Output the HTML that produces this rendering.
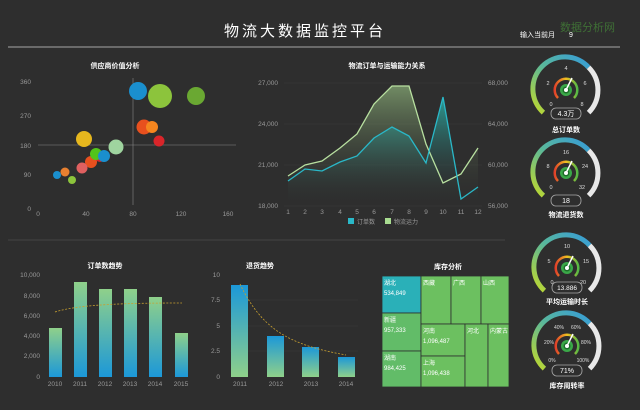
<!DOCTYPE html>
<html><head><meta charset="utf-8"><style>
html,body{margin:0;padding:0;background:#2e2e2e;}
svg{display:block;font-family:"Liberation Sans","Noto Sans CJK SC",sans-serif;}
</style></head><body>
<svg width="640" height="410" viewBox="0 0 640 410" xmlns="http://www.w3.org/2000/svg">
<defs>
<linearGradient id="ga" x1="-25" y1="25" x2="25" y2="-25" gradientUnits="userSpaceOnUse"><stop offset="0" stop-color="#b8d636"/><stop offset="0.5" stop-color="#5ab89a"/><stop offset="1" stop-color="#3a9fd2"/></linearGradient>
<linearGradient id="gi" x1="-12" y1="8" x2="12" y2="8" gradientUnits="userSpaceOnUse"><stop offset="0" stop-color="#e03a2a"/><stop offset="0.5" stop-color="#f0c020"/><stop offset="1" stop-color="#4cb848"/></linearGradient>
<linearGradient id="bGB" x1="0" y1="0" x2="0" y2="1"><stop offset="0" stop-color="#8fd08a"/><stop offset="1" stop-color="#1c98d8"/></linearGradient>
<linearGradient id="bBG" x1="0" y1="0" x2="0" y2="1"><stop offset="0" stop-color="#1c98d8"/><stop offset="1" stop-color="#8fd08a"/></linearGradient>
<linearGradient id="aG" x1="0" y1="0" x2="0" y2="1"><stop offset="0" stop-color="#a8d890" stop-opacity="0.55"/><stop offset="1" stop-color="#2e2e2e" stop-opacity="0"/></linearGradient>
<linearGradient id="aT" x1="0" y1="0" x2="0" y2="1"><stop offset="0" stop-color="#2ab8b0" stop-opacity="0.8"/><stop offset="1" stop-color="#2e2e2e" stop-opacity="0"/></linearGradient>
<g id="gauge">
<path d="M-22.6,22.6 A32,32 0 1 1 22.6,-22.6" fill="none" stroke="url(#ga)" stroke-width="5"/>
<path d="M22.6,-22.6 A32,32 0 0 1 22.6,22.6" fill="none" stroke="#e8e8e8" stroke-width="5"/>
<path d="M-8,8 A11.3,11.3 0 1 1 8,8" fill="none" stroke="url(#gi)" stroke-width="2.5"/>
<circle r="6" fill="#3aa848"/><circle r="3.5" fill="#1e6e2a"/><circle r="2" fill="#fff"/>
<line x1="0" y1="0" x2="6" y2="-12" stroke="#fff" stroke-width="1.5"/>
</g>
</defs>
<rect width="640" height="410" fill="#2e2e2e"/>
<text x="305" y="36" fill="#fff" font-size="15" text-anchor="middle" letter-spacing="3">物流大数据监控平台</text>
<text x="520" y="37" fill="#fff" font-size="7">输入当前月</text>
<text x="569" y="37" fill="#fff" font-size="7">9</text>
<text x="560" y="31" fill="#4a9a3a" font-size="11" opacity="0.6">数据分析网</text>
<rect x="8" y="46" width="612" height="2" fill="#6a6a6a"/>
<line x1="8" y1="240" x2="505" y2="240" stroke="#444" stroke-width="1"/>

<!-- scatter -->
<text x="115" y="68" fill="#fff" font-size="7" text-anchor="middle" font-weight="bold">供应商价值分析</text>
<g fill="#999" font-size="6.5" text-anchor="end">
<text x="31" y="84">360</text><text x="31" y="118">270</text><text x="31" y="148">180</text><text x="31" y="177">90</text><text x="31" y="211">0</text></g>
<g fill="#999" font-size="6.5" text-anchor="middle">
<text x="38" y="216">0</text><text x="86" y="216">40</text><text x="133" y="216">80</text><text x="181" y="216">120</text><text x="228" y="216">160</text></g>
<line x1="133" y1="78" x2="133" y2="205" stroke="#888" stroke-width="0.6"/>
<line x1="38" y1="145" x2="236" y2="145" stroke="#888" stroke-width="0.6"/>
<circle cx="138" cy="91" r="9" fill="#1a8fce"/>
<circle cx="160" cy="96" r="12" fill="#8cc43c"/>
<circle cx="196" cy="96" r="9" fill="#6aa832"/>
<circle cx="144" cy="127" r="7.5" fill="#e8501e"/>
<circle cx="152" cy="127" r="6" fill="#f5861f"/>
<circle cx="159" cy="141" r="5.5" fill="#d9252a"/>
<circle cx="84" cy="139" r="8" fill="#e6b71e"/>
<circle cx="116" cy="147" r="7.5" fill="#9fd49f"/>
<circle cx="91" cy="162" r="6" fill="#e8501e"/>
<circle cx="100" cy="157" r="5" fill="#d9252a"/>
<circle cx="96" cy="154" r="6" fill="#52c41a"/>
<circle cx="104" cy="156" r="6" fill="#1a8fce"/>
<circle cx="82" cy="168" r="5.5" fill="#e06060"/>
<circle cx="65" cy="172" r="4.5" fill="#e88030"/>
<circle cx="57" cy="175" r="4" fill="#1a8fce"/>
<circle cx="72" cy="180" r="4" fill="#8cc43c"/>

<!-- area chart -->
<text x="387" y="68" fill="#fff" font-size="7" text-anchor="middle" font-weight="bold">物流订单与运输能力关系</text>
<g stroke="#3a3a3a" stroke-width="0.6"><line x1="284" y1="83" x2="482" y2="83"/><line x1="284" y1="124" x2="482" y2="124"/><line x1="284" y1="165" x2="482" y2="165"/><line x1="284" y1="206" x2="482" y2="206"/></g>
<g fill="#999" font-size="6.5" text-anchor="end">
<text x="278" y="85">27,000</text><text x="278" y="126">24,000</text><text x="278" y="167">21,000</text><text x="278" y="208">18,000</text></g>
<g fill="#999" font-size="6.5" text-anchor="start">
<text x="488" y="85">68,000</text><text x="488" y="126">64,000</text><text x="488" y="167">60,000</text><text x="488" y="208">56,000</text></g>
<g fill="#999" font-size="6.5" text-anchor="middle">
<text x="288" y="214">1</text><text x="305" y="214">2</text><text x="322" y="214">3</text><text x="340" y="214">4</text><text x="357" y="214">5</text><text x="374" y="214">6</text><text x="392" y="214">7</text><text x="409" y="214">8</text><text x="426" y="214">9</text><text x="443" y="214">10</text><text x="461" y="214">11</text><text x="478" y="214">12</text></g>
<path d="M288,176 L305,165 L322,161 L340,148 L357,134 L374,104 L392,86 L409,86 L426,144 L443,183 L461,174 L478,148 L478,206 L288,206Z" fill="url(#aG)"/>
<path d="M288,181 L305,169 L322,171 L340,162 L357,156 L374,138 L392,127 L409,136 L426,163 L443,97 L461,199 L478,187 L478,206 L288,206Z" fill="url(#aT)"/>
<polyline points="288,176 305,165 322,161 340,148 357,134 374,104 392,86 409,86 426,144 443,183 461,174 478,148" fill="none" stroke="#b8e0a0" stroke-width="1.3"/>
<polyline points="288,181 305,169 322,171 340,162 357,156 374,138 392,127 409,136 426,163 443,97 461,199 478,187" fill="none" stroke="#2ab8c8" stroke-width="1.3"/>
<rect x="348" y="218" width="6" height="6" fill="#2ab8c8"/><text x="357" y="224" fill="#999" font-size="6">订单数</text>
<rect x="385" y="218" width="6" height="6" fill="#a8dc90"/><text x="394" y="224" fill="#999" font-size="6">物流运力</text>

<!-- bar chart 1 -->
<text x="105" y="268" fill="#fff" font-size="7" text-anchor="middle" font-weight="bold">订单数趋势</text>
<g fill="#999" font-size="6.5" text-anchor="end">
<text x="40" y="277">10,000</text><text x="40" y="298">8,000</text><text x="40" y="318">6,000</text><text x="40" y="338">4,000</text><text x="40" y="358">2,000</text><text x="40" y="379">0</text></g>
<g fill="url(#bGB)">
<rect x="49" y="328" width="13" height="49"/><rect x="74" y="282" width="13" height="95"/><rect x="99" y="289" width="13" height="88"/><rect x="124" y="289" width="13" height="88"/><rect x="149" y="297" width="13" height="80"/><rect x="175" y="333" width="13" height="44"/></g>
<path d="M55,312 C80,304 130,303 182,303" fill="none" stroke="#c8a030" stroke-width="0.8" stroke-dasharray="2,1.5"/>
<g fill="#999" font-size="6.5" text-anchor="middle">
<text x="55" y="386">2010</text><text x="80" y="386">2011</text><text x="105" y="386">2012</text><text x="130" y="386">2013</text><text x="155" y="386">2014</text><text x="181" y="386">2015</text></g>

<!-- bar chart 2 -->
<text x="260" y="268" fill="#fff" font-size="7" text-anchor="middle" font-weight="bold">退货趋势</text>
<g stroke="#3a3a3a" stroke-width="0.6"><line x1="230" y1="300" x2="358" y2="300"/><line x1="230" y1="326" x2="358" y2="326"/><line x1="230" y1="351" x2="358" y2="351"/></g>
<g fill="#999" font-size="6.5" text-anchor="end">
<text x="220" y="277">10</text><text x="220" y="302">7.5</text><text x="220" y="328">5</text><text x="220" y="353">2.5</text><text x="220" y="379">0</text></g>
<g fill="url(#bBG)">
<rect x="231" y="285" width="17" height="92"/><rect x="267" y="336" width="17" height="41"/><rect x="302" y="347" width="17" height="30"/><rect x="338" y="357" width="17" height="20"/></g>
<path d="M240,284 C262,330 290,345 346,355" fill="none" stroke="#c8a030" stroke-width="0.8" stroke-dasharray="2,1.5"/>
<g fill="#999" font-size="6.5" text-anchor="middle">
<text x="240" y="386">2011</text><text x="276" y="386">2012</text><text x="311" y="386">2013</text><text x="346" y="386">2014</text></g>

<!-- treemap -->
<text x="448" y="269" fill="#fff" font-size="7" text-anchor="middle" font-weight="bold">库存分析</text>
<g stroke="#2e2e2e" stroke-width="0.8">
<rect x="382" y="276" width="39" height="37" fill="#2ab0b8"/>
<rect x="382" y="313" width="39" height="38" fill="#62bc68"/>
<rect x="382" y="351" width="39" height="36" fill="#62bc68"/>
<rect x="421" y="276" width="30" height="48" fill="#6cc060"/>
<rect x="451" y="276" width="30" height="48" fill="#6cc060"/>
<rect x="481" y="276" width="28" height="48" fill="#6cc060"/>
<rect x="421" y="324" width="44" height="32" fill="#6cc060"/>
<rect x="421" y="356" width="44" height="31" fill="#6cc060"/>
<rect x="465" y="324" width="23" height="63" fill="#6cc060"/>
<rect x="488" y="324" width="21" height="63" fill="#6cc060"/></g>
<g fill="#fff" font-size="6">
<text x="384" y="285">湖北</text><text x="384" y="295">534,849</text>
<text x="384" y="322">新疆</text><text x="384" y="332">957,333</text>
<text x="384" y="360">湖南</text><text x="384" y="370">984,425</text>
<text x="423" y="285">西藏</text><text x="453" y="285">广西</text><text x="483" y="285">山西</text>
<text x="423" y="333">河南</text><text x="423" y="343">1,096,487</text>
<text x="423" y="365">上海</text><text x="423" y="375">1,096,438</text>
<text x="467" y="333">河北</text><text x="490" y="333">内蒙古</text></g>

<!-- gauges -->
<g transform="translate(566,90)"><use href="#gauge"/>
<g fill="#ddd" font-size="5.5" text-anchor="middle"><text x="-15" y="16">0</text><text x="-18" y="-5">2</text><text x="0" y="-20">4</text><text x="19" y="-5">6</text><text x="16" y="16">8</text></g>
<rect x="-15" y="18" width="30" height="11" rx="5" fill="none" stroke="#aaa" stroke-width="0.8"/><text x="0" y="26" fill="#fff" font-size="7" text-anchor="middle">4.3万</text></g>
<text x="566" y="132" fill="#fff" font-size="7" text-anchor="middle" font-weight="bold">总订单数</text>

<g transform="translate(566,173)"><use href="#gauge"/>
<g fill="#ddd" font-size="5.5" text-anchor="middle"><text x="-15" y="16">0</text><text x="-18" y="-5">8</text><text x="0" y="-19">16</text><text x="19" y="-5">24</text><text x="16" y="16">32</text></g>
<rect x="-15" y="22" width="30" height="11" rx="5" fill="none" stroke="#aaa" stroke-width="0.8"/><text x="0" y="30" fill="#fff" font-size="7" text-anchor="middle">18</text></g>
<text x="566" y="217" fill="#fff" font-size="7" text-anchor="middle" font-weight="bold">物流退货数</text>

<g transform="translate(567,268)"><use href="#gauge"/>
<g fill="#ddd" font-size="5.5" text-anchor="middle"><text x="-15" y="16">0</text><text x="-18" y="-5">5</text><text x="0" y="-20">10</text><text x="19" y="-5">15</text><text x="16" y="16">20</text></g>
<rect x="-15" y="14" width="30" height="11" rx="5" fill="none" stroke="#aaa" stroke-width="0.8"/><text x="0" y="22" fill="#fff" font-size="6.5" text-anchor="middle">13.886</text></g>
<text x="567" y="304" fill="#fff" font-size="7" text-anchor="middle" font-weight="bold">平均运输时长</text>

<g transform="translate(567,346)"><use href="#gauge"/>
<g fill="#ddd" font-size="5" text-anchor="middle"><text x="-15" y="16">0%</text><text x="-18" y="-2">20%</text><text x="-8" y="-17">40%</text><text x="9" y="-17">60%</text><text x="19" y="-2">80%</text><text x="16" y="16">100%</text></g>
<rect x="-15" y="19" width="30" height="11" rx="5" fill="none" stroke="#aaa" stroke-width="0.8"/><text x="0" y="27" fill="#fff" font-size="7" text-anchor="middle">71%</text></g>
<text x="567" y="388" fill="#fff" font-size="7" text-anchor="middle" font-weight="bold">库存周转率</text>
</svg>
</body></html>
